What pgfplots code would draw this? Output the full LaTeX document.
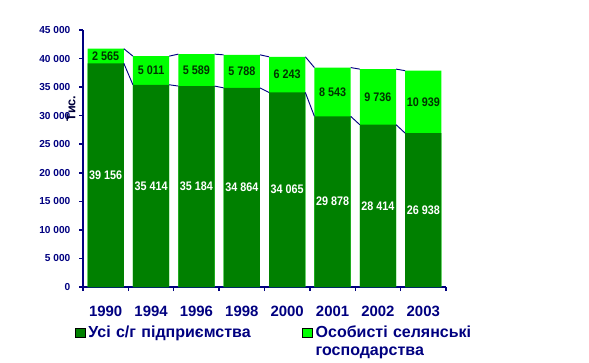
\documentclass[border=0pt]{standalone}
\usepackage{pgfplots}
\pgfplotsset{compat=1.18}
\usepackage{fontspec}
\setmainfont{Liberation Sans}
\definecolor{dgreen}{HTML}{008000}
\definecolor{lgreen}{HTML}{00FF00}
\definecolor{navy}{HTML}{000080}
\definecolor{ltext}{HTML}{003300}
\begin{document}
\begin{tikzpicture}
\useasboundingbox (0pt,0pt) rectangle (441.75pt,271.5pt);
\begin{axis}[
  at={(62.25pt,56.25pt)}, anchor=south west,
  scale only axis, width=272.25pt, height=192.75pt,
  xmin=-0.5, xmax=7.5, ymin=0, ymax=45000,
  axis x line*=bottom, axis y line*=left,
  axis line style={navy, line width=1.5pt},
  tick style={navy, line width=1.1pt},
  tick align=outside, major tick length=3pt,
  xtick={-0.5,0.5,1.5,2.5,3.5,4.5,5.5,6.5,7.5},
  xticklabels={},
  extra x ticks={0,1,2,3,4,5,6,7},
  extra x tick labels={1990,1994,1996,1998,2000,2001,2002,2003},
  extra x tick style={major tick length=0pt,
     tick label style={font=\bfseries\fontsize{11.2}{13}\selectfont, text=navy, yshift=-11pt}},
  ytick={0,5000,...,45000},
  scaled y ticks=false,
  /pgf/number format/assume math mode=true,
  /pgf/number format/1000 sep={\ },
  yticklabel style={font=\bfseries\fontsize{7.6}{9}\selectfont, text=navy, xshift=-3pt},
  ylabel={Тис.},
  ylabel style={at={(axis description cs:-0.033,0.695)}, anchor=center, rotate=0,
     font=\bfseries\fontsize{9.5}{11}\selectfont, text=navy!45!black},
  clip=false,
  legend columns=2,
  legend image code/.code={\fill[#1] (0pt,0.75pt) rectangle (7.5pt,7.5pt);},
  legend style={draw=none, fill=none, at={(-0.022,-0.141)}, anchor=north west,
     inner sep=0pt, /tikz/column sep=0pt,
     cells={anchor=base west, align=left, text width=158.5pt, inner xsep=2.5pt, inner ysep=0pt,
            font=\bfseries\fontsize{12}{13}\selectfont, text=navy}},
]
% total height (light green, drawn first)
\addplot[ybar, bar width=0.8, bar shift=0pt, fill=lgreen, draw=none, forget plot]
  coordinates {(0,41721) (1,40425) (2,40773) (3,40652) (4,40308) (5,38421) (6,38150) (7,37877)};
% agricultural enterprises (dark green)
\addplot[ybar, bar width=0.8, bar shift=0pt, fill=dgreen, draw=none, forget plot]
  coordinates {(0,39156) (1,35414) (2,35184) (3,34864) (4,34065) (5,29878) (6,28414) (7,26938)};
% series lines
\addplot[navy, line width=0.7pt, unbounded coords=jump, forget plot] coordinates {
  (0.4,41721) (0.6,40425) (1,nan) (1.4,40425) (1.6,40773) (2,nan)
  (2.4,40773) (2.6,40652) (3,nan) (3.4,40652) (3.6,40308) (4,nan)
  (4.4,40308) (4.6,38421) (5,nan) (5.4,38421) (5.6,38150) (6,nan)
  (6.4,38150) (6.6,37877)};
\addplot[navy, line width=0.7pt, unbounded coords=jump, forget plot] coordinates {
  (0.4,39156) (0.6,35414) (1,nan) (1.4,35414) (1.6,35184) (2,nan)
  (2.4,35184) (2.6,34864) (3,nan) (3.4,34864) (3.6,34065) (4,nan)
  (4.4,34065) (4.6,29878) (5,nan) (5.4,29878) (5.6,28414) (6,nan)
  (6.4,28414) (6.6,26938)};
% labels dark
\addplot[draw=none, mark=none, forget plot, nodes near coords, point meta=explicit symbolic,
  every node near coord/.style={anchor=center, text=white, xscale=0.87,
     font=\bfseries\fontsize{9.3}{11}\selectfont}]
  coordinates {(0,19578) [39 156] (1,17707) [35 414] (2,17592) [35 184] (3,17432) [34 864]
               (4,17032) [34 065] (5,14939) [29 878] (6,14207) [28 414] (7,13469) [26 938]};
% labels light
\addplot[draw=none, mark=none, forget plot, nodes near coords, point meta=explicit symbolic,
  every node near coord/.style={anchor=center, text=ltext, xscale=0.87,
     font=\bfseries\fontsize{9.3}{11}\selectfont}]
  coordinates {(0,40438) [2 565] (1,37920) [5 011] (2,37978) [5 589] (3,37758) [5 788]
               (4,37186) [6 243] (5,34150) [8 543] (6,33282) [9 736] (7,32408) [10 939]};
\addlegendimage{fill=dgreen}
\addlegendentry{Усі с/г підприємства}
\addlegendimage{fill=lgreen}
\addlegendentry{Особисті селянські\\господарства}
\end{axis}
\end{tikzpicture}
\end{document}
